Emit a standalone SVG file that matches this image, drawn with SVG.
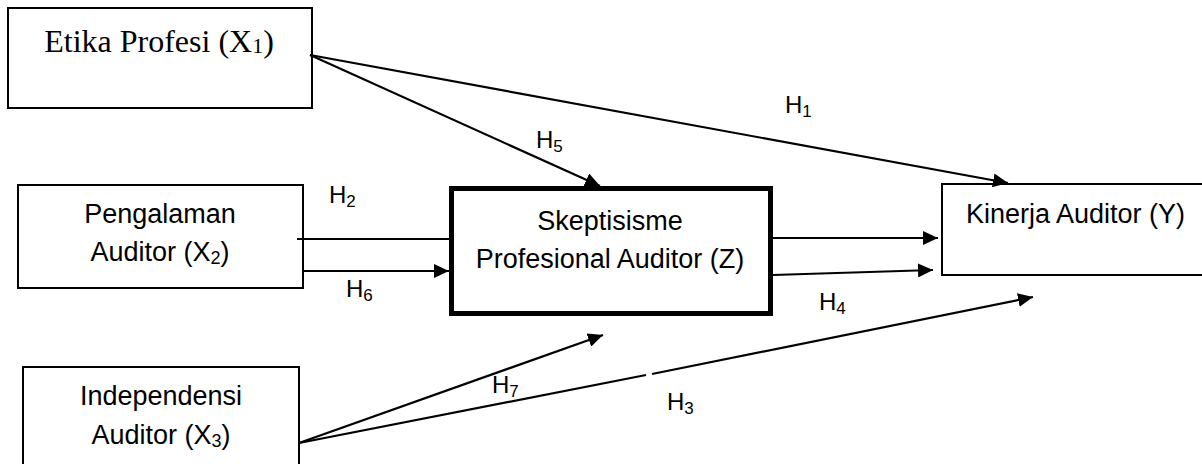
<svg xmlns="http://www.w3.org/2000/svg" width="1202" height="464" viewBox="0 0 1202 464">
<style>
.box{fill:#fff;stroke:#000;stroke-width:2}
.bold{fill:#fff;stroke:#000;stroke-width:5}
.t{font-family:"Liberation Sans",Arial,sans-serif;font-size:27px;fill:#000;text-anchor:middle}
.serif{font-family:"Liberation Serif","Times New Roman",serif;font-size:32px;fill:#000;text-anchor:middle}
.h{font-family:"Liberation Sans",Arial,sans-serif;font-size:24px;fill:#000}
.c{stroke:#000;stroke-width:2.2;fill:none}
</style>
<defs>
<marker id="arr" markerUnits="userSpaceOnUse" markerWidth="16" markerHeight="14" refX="15" refY="7" orient="auto">
<path d="M0,0 L15,7 L0,14 z" fill="#000"/>
</marker>
</defs>
<g id="etika">
<rect class="box" x="8" y="8" width="304" height="100"/>
<text class="serif" x="159" y="52">Etika Profesi (X<tspan font-size="22" dy="1">1</tspan><tspan dy="-1">)</tspan></text>
</g>
<g id="pengalaman">
<rect class="box" x="18" y="185" width="285" height="103"/>
<text class="t" x="160" y="223">Pengalaman</text>
<text class="t" x="160" y="261">Auditor (X<tspan font-size="18" dy="3">2</tspan><tspan dy="-3">)</tspan></text>
</g>
<g id="independensi">
<rect class="box" x="23" y="367" width="276" height="110"/>
<text class="t" x="161" y="405">Independensi</text>
<text class="t" x="161" y="444">Auditor (X<tspan font-size="18" dy="3">3</tspan><tspan dy="-3">)</tspan></text>
</g>
<g id="skeptisisme">
<rect class="bold" x="451.5" y="188.5" width="319" height="125"/>
<text class="t" x="610" y="230">Skeptisisme</text>
<text class="t" x="610" y="268">Profesional Auditor (Z)</text>
</g>
<g id="kinerja">
<rect class="box" x="942" y="184" width="280" height="91"/>
<text class="t" x="966" y="223" style="text-anchor:start">Kinerja Auditor (Y)</text>
</g>
<g id="connectors">
<line class="c" x1="310" y1="55" x2="1008" y2="183" marker-end="url(#arr)"/>
<line class="c" x1="310" y1="55" x2="600" y2="186" marker-end="url(#arr)"/>
<line class="c" x1="297" y1="239" x2="450" y2="239"/>
<line class="c" x1="303" y1="271" x2="449" y2="271" marker-end="url(#arr)"/>
<line class="c" x1="773" y1="238" x2="938" y2="238" marker-end="url(#arr)"/>
<line class="c" x1="773" y1="275" x2="933" y2="270" marker-end="url(#arr)"/>
<line class="c" x1="299" y1="443" x2="603" y2="335" marker-end="url(#arr)"/>
<line class="c" x1="299" y1="443" x2="646" y2="375"/>
<line class="c" x1="652" y1="374" x2="1033" y2="297" marker-end="url(#arr)"/>
</g>
<g id="labels">
<text class="h" x="785" y="113">H<tspan font-size="17" dy="4">1</tspan></text>
<text class="h" x="536" y="148">H<tspan font-size="17" dy="4">5</tspan></text>
<text class="h" x="329" y="203">H<tspan font-size="17" dy="4">2</tspan></text>
<text class="h" x="346" y="297">H<tspan font-size="17" dy="4">6</tspan></text>
<text class="h" x="819" y="310">H<tspan font-size="17" dy="4">4</tspan></text>
<text class="h" x="492" y="393">H<tspan font-size="17" dy="4">7</tspan></text>
<text class="h" x="667" y="410">H<tspan font-size="17" dy="4">3</tspan></text>
</g>
</svg>
